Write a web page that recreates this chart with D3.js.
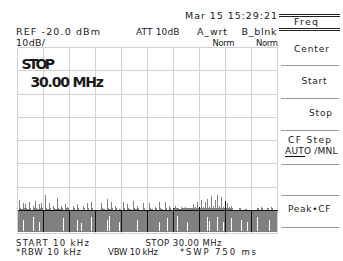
<!DOCTYPE html>
<html>
<head>
<meta charset="utf-8">
<script src="https://cdn.jsdelivr.net/npm/d3@7"></script>
<style>
  body { margin: 0; background: #fff; }
  text { font-family: "DejaVu Sans", sans-serif; fill: #1a1a1a; }
</style>
</head>
<body>
<div id="screen"></div>
<script>
// analyzer settings
var refLevel = -20, dbPerDiv = 10, divsY = 8, divsX = 10;

// swept trace, dBm, 130 points from 10 kHz to 30 MHz
var trace = [
  -89.8,-85.5,-89.5,-87,-87.5,-89.6,-86.5,-90,-88,-86,
  -89.4,-87.5,-87,-89.7,-83.5,-89.3,-87,-89.8,-88,-89.5,
  -84.7,-89.6,-88,-89.9,-87.5,-88.5,-90,-89.7,-88,-90.1,
  -87.5,-89.8,-90,-88,-89.9,-87,-90,-86.5,-89.7,-90.1,
  -89.8,-90,-87,-89.5,-89.9,-85.3,-89.6,-86.5,-89.8,-88,
  -90,-89.6,-89.9,-86.5,-89.7,-87.5,-89.5,-90,-86,-89.6,
  -88,-89.8,-90,-87,-89.7,-89.9,-87,-89.5,-89.8,-88.7,
  -90,-86.5,-89.6,-89.9,-86.5,-89.7,-88,-89.8,-89.2,-88,
  -89,-89.3,-88.8,-89.1,-88.5,-89.2,-88.9,-89,-87.5,-88.8,
  -86.5,-88.6,-85.5,-88.4,-86.5,-85,-88.5,-84,-88.2,-85.5,
  -83.5,-88.3,-84.5,-88.5,-86,-87,-88.6,-88,-90.3,-90.5,
  -90.2,-89,-90.4,-90.3,-89.5,-90.5,-90.2,-90.4,-90.3,-90.5,
  -89,-90.2,-88.5,-90.4,-90.3,-89,-90.5,-88.5,-90.2,-90.4
];

// short dropouts inside the trace: point index and the dBm they start at
var dipIndex = [3,8,11,23,30,32,37,45,46,51,60,65,71,75,78,80,85,95,96,100,103,107,112,115,120,126];
var dipLevel = [-94,-93,-95,-93.5,-94,-95.5,-93,-94,-92.5,-95,-94,-93,-95,-93.5,-94,-92.5,-95,-93,-94.5,-93,-95,-93.5,-94,-95,-93,-94];

var softkeys = ["Center", "Start", "Stop", "CF Step", "", "Peak\u2022CF"];

var W = 343, H = 261;
var plot = {left: 17.5, right: 277, top: 47.5, bottom: 233.5};

var svg = d3.select("#screen").append("svg")
    .attr("width", W)
    .attr("height", H);

svg.append("rect").attr("width", W).attr("height", H).attr("fill", "#fff");

var y = d3.scaleLinear()
    .domain([refLevel - dbPerDiv * divsY, refLevel])
    .range([plot.bottom, plot.top]);
var xb = d3.scaleBand()
    .domain(d3.range(trace.length))
    .range([plot.left, plot.right]);
var gx = d3.scaleLinear().domain([0, divsX]).range([plot.left, plot.right]);

function px(v) { return Math.round(v - 0.5) + 0.5; }

var vLines = d3.range(divsX + 1).map(function (k) { return px(gx(k)); });
var hLevels = d3.range(divsY + 1).map(function (k) { return refLevel - k * dbPerDiv; });

// graticule
var grid = svg.append("g").attr("shape-rendering", "crispEdges");
grid.selectAll(".v").data(vLines).enter().append("line")
    .attr("x1", function (d) { return d; }).attr("x2", function (d) { return d; })
    .attr("y1", px(plot.top)).attr("y2", px(plot.bottom))
    .attr("stroke", "#d2d2d2");
grid.selectAll(".h").data(hLevels).enter().append("line")
    .attr("x1", px(plot.left)).attr("x2", px(plot.right))
    .attr("y1", function (d) { return px(y(d)); }).attr("y2", function (d) { return px(y(d)); })
    .attr("stroke", "#d2d2d2");

// trace: solid body up to the noise floor, thin needles above it
var floorY = Math.round(y(-99.3));
var bodyTop = -89;
function barX(d, i) { return Math.round(xb(i)); }
function barW(d, i) { return Math.round(xb(i) + xb.bandwidth()) - Math.round(xb(i)); }
function bodyY(d) { return Math.round(y(Math.min(d, bodyTop))); }

function drawTrace(sel, color) {
  sel.selectAll(".body").data(trace).enter().append("rect")
      .attr("x", barX).attr("width", barW)
      .attr("y", bodyY)
      .attr("height", function (d) { return floorY - bodyY(d); })
      .attr("fill", color);
  sel.selectAll(".needle").data(trace).enter().append("rect")
      .attr("x", barX).attr("width", 1)
      .attr("y", function (d) { return Math.round(y(d)); })
      .attr("height", function (d) { return d > bodyTop ? bodyY(d) - Math.round(y(d)) : 0; })
      .attr("fill", color);
}

drawTrace(svg.append("clipPath").attr("id", "traceclip"), "#000");
drawTrace(svg.append("g").attr("shape-rendering", "crispEdges"), "#808080");

svg.append("g").attr("shape-rendering", "crispEdges")
  .selectAll("rect").data(dipIndex).enter().append("rect")
    .attr("x", function (d) { return Math.round(xb(d)); })
    .attr("width", 1)
    .attr("y", function (d, i) { return Math.round(y(dipLevel[i])); })
    .attr("height", function (d, i) { return Math.round(y(-99)) - Math.round(y(dipLevel[i])); })
    .attr("fill", "#fff");

// graticule shows dark where it crosses the trace
svg.append("g").attr("clip-path", "url(#traceclip)").attr("shape-rendering", "crispEdges")
  .selectAll("line").data(vLines.slice(1, -1)).enter().append("line")
    .attr("x1", function (d) { return d; }).attr("x2", function (d) { return d; })
    .attr("y1", px(plot.top)).attr("y2", px(plot.bottom))
    .attr("stroke", "#111");
svg.append("line").attr("shape-rendering", "crispEdges")
    .attr("x1", px(plot.left)).attr("x2", px(plot.right))
    .attr("y1", px(y(-90))).attr("y2", px(y(-90)))
    .attr("stroke", "#111");

// annotation text
function label(str, x, yy, len, size, weight) {
  var t = svg.append("text")
      .attr("x", x).attr("y", yy)
      .style("font-size", (size || 9) + "px")
      .text(str);
  if (weight) t.style("font-weight", weight);
  if (len) t.attr("textLength", len).attr("lengthAdjust", "spacing");
  return t;
}

label("Mar 15 15:29:21", 185, 19, 92, 9.5);
label("REF -20.0 dBm", 16, 35, 84, 9.5);
label("10dB/", 16, 45.5, 29, 9.5);
label("ATT 10dB", 136, 35, 43.5, 9);
label("A_wrt", 197, 35, 30, 9.5);
label("B_blnk", 241.5, 35, 35, 9.5);
label("Norm", 212.5, 45.5, 22, 8.5);
label("Norm", 256, 45.5, 22, 8.5);

label("STOP", 21.5, 68.5, 33.5, 14, "bold");
label("30.00 MHz", 30.5, 86.5, 73.5, 14, "bold");

label("START 10 kHz", 16, 245.5, 73, 8.5);
label("STOP 30.00 MHz", 145.5, 245.5, 76, 8.5);
label("*RBW 10 kHz", 16, 254.5, 65, 8.5);
label("VBW 10 kHz", 108, 254.5, 50, 8.5);
label("*SWP 750 ms", 180, 254.5, 76, 8.5);

// softkey panel
var keys = svg.append("g").attr("shape-rendering", "crispEdges");
[14, 16, 28, 30].forEach(function (yy) {
  keys.append("line").attr("x1", 279).attr("x2", 340)
      .attr("y1", yy + 0.5).attr("y2", yy + 0.5).attr("stroke", "#222");
});
label("Freq", 294, 25, 24, 9.5);

var sepY = [65, 98, 130, 164, 195, 227];
keys.selectAll(".sep").data(sepY).enter().append("line")
    .attr("x1", 281).attr("x2", 339)
    .attr("y1", function (d) { return d + 0.5; }).attr("y2", function (d) { return d + 0.5; })
    .attr("stroke", "#9a9a9a");

var keyX = [294, 301.5, 309, 288, 0, 288];
var keyY = [51.5, 83.5, 116, 142.5, 0, 212];
var keyW = [35, 25, 23, 43, 0, 42.5];
softkeys.forEach(function (s, i) {
  if (s) label(s, keyX[i], keyY[i], keyW[i], 9);
});
label("AUTO /MNL", 285, 154, 52.5, 9);
keys.append("line").attr("x1", 285).attr("x2", 305)
    .attr("y1", 156.5).attr("y2", 156.5).attr("stroke", "#111");
</script>
</body>
</html>
